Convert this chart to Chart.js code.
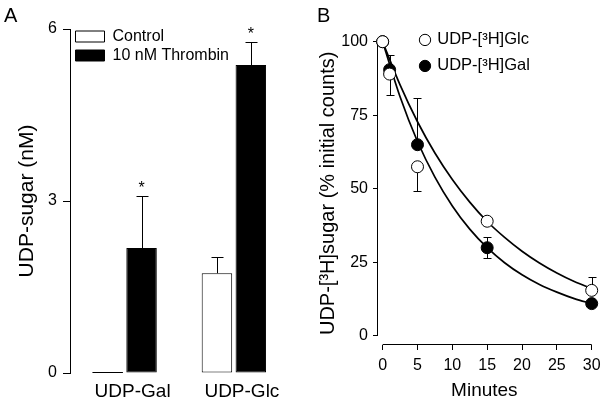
<!DOCTYPE html>
<html><head><meta charset="utf-8">
<script src="https://cdn.jsdelivr.net/npm/chart.js@4.4.1/dist/chart.umd.min.js"></script>
<style>
html,body{margin:0;padding:0;background:#fff;}
#wrap{position:relative;width:609px;height:408px;overflow:hidden;font-family:"Liberation Sans",Arial,sans-serif;}
canvas{position:absolute;top:0;}
#ca{left:0;}
#cb{left:300px;}
.lab{position:absolute;font-size:20px;line-height:20px;color:#000;}
</style></head><body>
<div id="wrap">
<canvas id="ca" width="300" height="408" style="width:300px;height:408px"></canvas>
<canvas id="cb" width="309" height="408" style="width:309px;height:408px"></canvas>
<div class="lab" style="left:4px;top:5px">A</div>
<div class="lab" style="left:317px;top:5px">B</div>
</div>
<script>
// ---------- Panel A data ----------
const categoriesA = ['UDP-Gal', 'UDP-Glc'];
const controlVals = [0, 1.74];
const thrombinVals = [2.18, 5.37];
const controlErr = [0, 0.28];
const thrombinErr = [0.90, 0.40];
const controlSig = [false, false];
const thrombinSig = [true, true];
const yTicksA = [0, 3, 6];

// ---------- Panel B data ----------
const minutes = [0, 1, 5, 15, 30];
const glcVals = [100, 89, 57.5, 39, 15.5];
const galVals = [100, 90.5, 65, 30, 11];
const glcErrUp = [0, 0, 0, 0, 4.5];
const glcErrDown = [0, 7, 8.3, 0, 0];
const galErrUp = [0, 5, 16, 3.5, 0];
const galErrDown = [0, 0, 0, 3.5, 0];
const fitMinutes = [0, 2.5, 5, 7.5, 10, 12.5, 15, 17.5, 20, 22.5, 25, 27.5, 30];
const glcFit = [100, 85.3, 72.8, 62.2, 53.2, 45.5, 38.9, 33.5, 28.8, 24.8, 21.4, 18.5, 16.1];
const galFit = [100, 81.3, 66.1, 54.0, 44.2, 36.3, 30.0, 24.9, 20.8, 17.5, 14.9, 12.7, 11.0];
const xTicksB = [0, 5, 10, 15, 20, 25, 30];
const yTicksB = [0, 25, 50, 75, 100];

Chart.defaults.font.family = "'Liberation Sans', Arial, sans-serif";
Chart.defaults.color = '#000';

const crisp = v => Math.round(v) + 0.5;

// ---------- Panel A ----------
const legendShiftA = {
  id: 'legendShiftA',
  afterLayout(chart) {
    chart.legend.left = chart.chartArea.left + 2.5;
    chart.legend.top = chart.chartArea.top - 3.5;
  }
};
const errA = {
  id: 'errA',
  afterDatasetsDraw(chart) {
    const ctx = chart.ctx, ys = chart.scales.y;
    const errs = [controlErr, thrombinErr];
    const sigs = [controlSig, thrombinSig];
    ctx.save();
    ctx.strokeStyle = '#000'; ctx.fillStyle = '#000'; ctx.lineWidth = 1;
    chart.data.datasets.forEach((ds, di) => {
      const meta = chart.getDatasetMeta(di);
      meta.data.forEach((bar, i) => {
        const v = ds.data[i];
        const y0 = ys.getPixelForValue(0);
        if (v === 0) {
          ctx.beginPath();
          ctx.moveTo(bar.x - bar.width / 2, crisp(y0) - 1);
          ctx.lineTo(bar.x + bar.width / 2, crisp(y0) - 1);
          ctx.stroke();
        }
        const e = errs[di][i];
        let top = ys.getPixelForValue(v);
        if (e > 0) {
          const x = crisp(bar.x);
          const yt = ys.getPixelForValue(v), ye = crisp(ys.getPixelForValue(v + e));
          ctx.beginPath();
          ctx.moveTo(x, yt); ctx.lineTo(x, ye);
          ctx.moveTo(x - 6, ye); ctx.lineTo(x + 6, ye);
          ctx.stroke();
          top = ye;
        }
        if (sigs[di][i]) {
          ctx.font = "16px 'Liberation Sans', Arial, sans-serif";
          ctx.textAlign = 'center'; ctx.textBaseline = 'alphabetic';
          ctx.fillText('*', bar.x, top - 4);
        }
      });
    });
    ctx.restore();
  }
};

new Chart(document.getElementById('ca'), {
  type: 'bar',
  data: {
    labels: categoriesA,
    datasets: [
      { label: 'Control', data: controlVals, backgroundColor: '#fff', borderColor: '#000', borderWidth: 1, borderSkipped: false },
      { label: '10 nM Thrombin', data: thrombinVals, backgroundColor: '#000', borderColor: '#000', borderWidth: 1, borderSkipped: false }
    ]
  },
  options: {
    responsive: false, devicePixelRatio: 1, animation: false,
    layout: { padding: { top: 29, right: 11.5, left: 0, bottom: 0 } },
    categoryPercentage: 0.62, barPercentage: 0.9,
    plugins: {
      legend: {
        position: 'chartArea', align: 'start',
        labels: { boxWidth: 29, boxHeight: 11, padding: 3, color: '#000', font: { size: 16 } }
      },
      tooltip: { enabled: false }
    },
    scales: {
      x: {
        grid: { display: false, drawTicks: false },
        border: { display: false },
        ticks: { font: { size: 19 }, color: '#000', padding: 7, labelOffset: 8 },
        afterFit(s) { s.height = 35; }
      },
      y: {
        min: 0, max: 6,
        afterBuildTicks(s) { s.ticks = yTicksA.map(v => ({ value: v })); },
        grid: { drawOnChartArea: false, drawTicks: true, tickLength: 7, color: '#000' },
        border: { display: true, color: '#000', width: 1 },
        ticks: { font: { size: 16 }, color: '#000', padding: 6 },
        title: { display: true, text: 'UDP-sugar (nM)', font: { size: 21 }, color: '#000', padding: { top: 14.4, bottom: 0 } },
        afterFit(s) { s.width = 70; }
      }
    }
  },
  plugins: [legendShiftA, errA]
});

// ---------- Panel B ----------
const legendShiftB = {
  id: 'legendShiftB',
  afterLayout(chart) {
    chart.legend.left = chart.chartArea.left + 34.5;
    chart.legend.top = chart.chartArea.top - 19.5;
  }
};
const axesErrB = {
  id: 'axesErrB',
  beforeDatasetsDraw(chart) {
    const ctx = chart.ctx, xs = chart.scales.x, ys = chart.scales.y, ca = chart.chartArea;
    ctx.save();
    ctx.strokeStyle = '#000'; ctx.lineWidth = 1;
    // axis lines spanning the tick range
    ctx.beginPath();
    ctx.moveTo(xs.getPixelForValue(xTicksB[0]), crisp(ca.bottom) - 1);
    ctx.lineTo(xs.getPixelForValue(xTicksB[xTicksB.length - 1]), crisp(ca.bottom) - 1);
    ctx.moveTo(crisp(ca.left), ys.getPixelForValue(yTicksB[0]));
    ctx.lineTo(crisp(ca.left), ys.getPixelForValue(yTicksB[yTicksB.length - 1]));
    ctx.stroke();
    // error bars
    const series = [[glcVals, glcErrUp, glcErrDown], [galVals, galErrUp, galErrDown]];
    series.forEach(([vals, up, dn]) => {
      vals.forEach((v, i) => {
        const x = crisp(xs.getPixelForValue(minutes[i]));
        const yv = ys.getPixelForValue(v);
        ctx.beginPath();
        if (up[i] > 0) {
          const ye = crisp(ys.getPixelForValue(v + up[i]));
          ctx.moveTo(x, yv); ctx.lineTo(x, ye);
          ctx.moveTo(x - 4, ye); ctx.lineTo(x + 4, ye);
        }
        if (dn[i] > 0) {
          const ye = crisp(ys.getPixelForValue(v - dn[i]));
          ctx.moveTo(x, yv); ctx.lineTo(x, ye);
          ctx.moveTo(x - 4, ye); ctx.lineTo(x + 4, ye);
        }
        ctx.stroke();
      });
    });
    ctx.restore();
  }
};

const toXY = (xs, ys) => xs.map((x, i) => ({ x: x, y: ys[i] }));

new Chart(document.getElementById('cb'), {
  type: 'scatter',
  data: {
    datasets: [
      { label: 'UDP-[³H]Glc', data: toXY(minutes, glcVals), pointStyle: 'circle', pointRadius: 6, backgroundColor: '#fff', borderColor: '#000', borderWidth: 1, showLine: false, order: 0, clip: false },
      { label: 'UDP-[³H]Gal', data: toXY(minutes, galVals), pointStyle: 'circle', pointRadius: 6, backgroundColor: '#000', borderColor: '#000', borderWidth: 1, showLine: false, order: 1, clip: false },
      { label: 'Glc fit', type: 'line', data: toXY(fitMinutes, glcFit), borderColor: '#000', borderWidth: 1.7, pointRadius: 0, fill: false, cubicInterpolationMode: 'monotone', order: 2, clip: false },
      { label: 'Gal fit', type: 'line', data: toXY(fitMinutes, galFit), borderColor: '#000', borderWidth: 1.7, pointRadius: 0, fill: false, cubicInterpolationMode: 'monotone', order: 3, clip: false }
    ]
  },
  options: {
    responsive: false, devicePixelRatio: 1, animation: false,
    layout: { padding: { top: 41.7, right: 17.3, left: 0, bottom: 0 } },
    plugins: {
      legend: {
        position: 'chartArea', align: 'start',
        labels: {
          usePointStyle: true, boxWidth: 8, boxHeight: 8, padding: 9.5, color: '#000', font: { size: 16.5 },
          filter: item => item.datasetIndex < 2
        }
      },
      tooltip: { enabled: false }
    },
    scales: {
      x: {
        type: 'linear', min: -0.81, max: 30,
        afterBuildTicks(s) { s.ticks = xTicksB.map(v => ({ value: v })); },
        grid: { drawOnChartArea: false, drawTicks: true, tickLength: 5, color: '#000' },
        border: { display: false },
        ticks: { font: { size: 16 }, color: '#000', padding: 6, maxRotation: 0 },
        title: { display: true, text: 'Minutes', font: { size: 19 }, color: '#000', padding: { top: 0, bottom: 6 } },
        afterFit(s) { s.height = 63; }
      },
      y: {
        type: 'linear', min: -3.06, max: 100,
        afterBuildTicks(s) { s.ticks = yTicksB.map(v => ({ value: v })); },
        grid: { drawOnChartArea: false, drawTicks: true, tickLength: 4, color: '#000' },
        border: { display: false },
        ticks: { font: { size: 16 }, color: '#000', padding: 5 },
        title: { display: true, text: 'UDP-[³H]sugar (% initial counts)', font: { size: 20 }, color: '#000', padding: { top: 16, bottom: 0 } },
        afterFit(s) { s.width = 77; }
      }
    }
  },
  plugins: [legendShiftB, axesErrB]
});
</script>
</body></html>
